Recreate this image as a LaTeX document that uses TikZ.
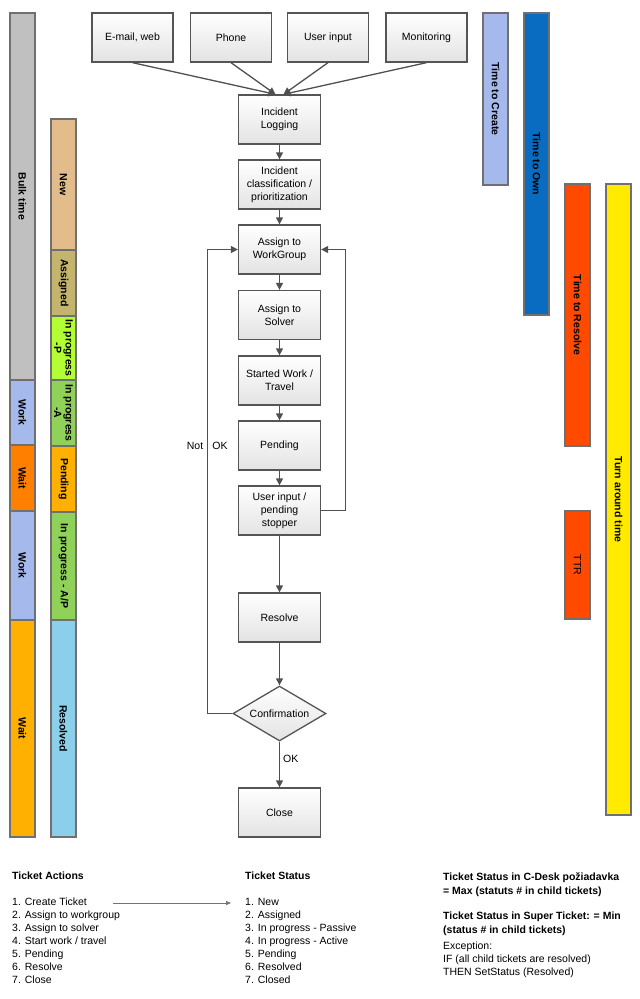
\documentclass[tikz,border=0pt]{standalone}
\usepackage{fontspec}
\setmainfont{Liberation Sans}
\usetikzlibrary{arrows.meta,shapes.geometric}
\definecolor{barline}{HTML}{707070}
\definecolor{boxline}{HTML}{555555}
\definecolor{arrline}{HTML}{505050}
\definecolor{cbulk}{HTML}{C0C0C0}
\definecolor{cwork}{HTML}{A6B9EC}
\definecolor{cwaitA}{HTML}{FF7F00}
\definecolor{cwaitB}{HTML}{FFB000}
\definecolor{cnew}{HTML}{E3BC8C}
\definecolor{cassig}{HTML}{C3B46E}
\definecolor{cprogP}{HTML}{B2FF33}
\definecolor{cprogA}{HTML}{8FD159}
\definecolor{cresol}{HTML}{8CCFEA}
\definecolor{cown}{HTML}{0A6CC0}
\definecolor{cttr}{HTML}{FF4A00}
\definecolor{cturn}{HTML}{FFEA00}
\begin{document}
\begin{tikzpicture}[x=1pt,y=-1pt,
  bar/.style={draw=barline, line width=1.2pt, rotate=-90, font=\fontsize{10.5}{11.5}\selectfont\bfseries, align=center, inner sep=0pt, minimum height=25pt},
  fbox/.style={draw=boxline, line width=1.3pt, top color=white, bottom color=black!11, font=\fontsize{10.5}{13}\selectfont, align=center, inner sep=2pt, minimum width=82pt, minimum height=49pt},
  dbox/.style={draw=boxline, line width=1.3pt, top color=white, bottom color=black!11, font=\fontsize{10.5}{13}\selectfont, shape=diamond, aspect=1.7, inner sep=0pt, minimum width=93pt, minimum height=55pt},
  arr/.style={draw=arrline, line width=1.3pt, -{Triangle[length=7pt,width=7pt]}},
  thinarr/.style={draw=black!55, line width=0.8pt, -{Triangle[length=5pt,width=4pt]}},
  lbl/.style={font=\fontsize{10.5}{13}\selectfont, inner sep=0pt},
  txt/.style={font=\fontsize{10.5}{13}\selectfont, align=left, anchor=north west, inner sep=0pt},
  btxt/.style={txt, font=\fontsize{10.5}{14}\selectfont\bfseries}
]
\useasboundingbox (0,0) rectangle (640,999);

% left column: time types
\node[bar, fill=cbulk, minimum width=367pt] (bulk) at (22.5,196.5) {Bulk time};
\node[bar, fill=cwork, minimum width=65pt] (work1) at (22.5,412.5) {Work};
\node[bar, fill=cwaitA, minimum width=66pt] (wait1) at (22.5,478) {Wait};
\node[bar, fill=cwork, minimum width=109pt] (work2) at (22.5,565.5) {Work};
\node[bar, fill=cwaitB, minimum width=217pt] (wait2) at (22.5,728.5) {Wait};

% status column
\node[bar, fill=cnew, minimum width=131pt] (snew) at (63.5,184.5) {New};
\node[bar, fill=cassig, minimum width=66pt] (sassig) at (63.5,283) {Assigned};
\node[bar, fill=cprogP, minimum width=64pt] (sprogP) at (63.5,348) {In progress\\-P};
\node[bar, fill=cprogA, minimum width=66pt] (sprogA) at (63.5,413) {In progress\\-A};
\node[bar, fill=cwaitB, minimum width=66pt] (spend) at (63.5,479) {Pending};
\node[bar, fill=cprogA, minimum width=108pt] (sprogAP) at (63.5,566) {In progress - A/P};
\node[bar, fill=cresol, minimum width=217pt] (sresol) at (63.5,728.5) {Resolved};

% right bars
\node[bar, fill=cwork, minimum width=172pt] (tcreate) at (495.5,99) {Time to Create};
\node[bar, fill=cown, minimum width=302pt] (town) at (536.5,164) {Time to Own};
\node[bar, fill=cttr, minimum width=262pt] (tresolve) at (577.5,315) {Time to Resolve};
\node[bar, fill=cttr, minimum width=108pt, font=\fontsize{10.5}{11.5}\selectfont] (ttr) at (577.5,565) {TTR};
\node[bar, fill=cturn, minimum width=631pt] (turn) at (618.5,499.5) {Turn around time};

% input boxes
\node[fbox, minimum width=81pt] (email) at (132.5,37.5) {E-mail, web};
\node[fbox, minimum width=81pt] (phone) at (231,37.5) {Phone};
\node[fbox, minimum width=81pt] (userin) at (328,37.5) {User input};
\node[fbox, minimum width=81pt] (monit) at (426.5,37.5) {Monitoring};

% flow
\node[fbox] (log) at (279.5,119.5) {Incident\\Logging};
\node[fbox] (class) at (279.5,184.5) {Incident\\classification /\\prioritization};
\node[fbox] (wg) at (279.5,249.5) {Assign to\\WorkGroup};
\node[fbox] (solver) at (279.5,315) {Assign to\\Solver};
\node[fbox] (started) at (279.5,380.5) {Started Work /\\Travel};
\node[fbox] (pend) at (279.5,445.5) {Pending};
\node[fbox] (uip) at (279.5,510.5) {User input /\\pending\\stopper};
\node[fbox] (resolve) at (279.5,617.5) {Resolve};
\node[dbox] (conf) at (279.5,713.5) {Confirmation};
\node[fbox] (close) at (279.5,812.5) {Close};

\draw[arr] (email.south) -- ([xshift=-4pt]log.north);
\draw[arr] (phone.south) -- ([xshift=-4pt]log.north);
\draw[arr] (userin.south) -- ([xshift=4pt]log.north);
\draw[arr] (monit.south) -- ([xshift=4pt]log.north);
\draw[arr] (log) -- (class);
\draw[arr] (class) -- (wg);
\draw[arr] (wg) -- (solver);
\draw[arr] (solver) -- (started);
\draw[arr] (started) -- (pend);
\draw[arr] (pend) -- (uip);
\draw[arr] (uip) -- (resolve);
\draw[arr] (resolve) -- (conf);
\draw[arr] (conf) -- node[lbl, right=3pt, pos=0.38] (oklow) {OK} (close);
\draw[arr] (conf.west) -- ++(-25,0) |- (wg.west);
\draw[arr] (uip.east) -- ++(24,0) |- (wg.east);
\node[lbl] (notlbl) at (195,445.5) {Not};
\node[lbl] (oklbl) at (220,445.5) {OK};

% bottom legend
\node[btxt] (actH) at (12,872) {Ticket Actions};
\node[txt] (actL) at (12,898) {1. Create Ticket\\2. Assign to workgroup\\3. Assign to solver\\4. Start work / travel\\5. Pending\\6. Resolve\\7. Close};
\node[btxt] (statH) at (245,872) {Ticket Status};
\node[txt] (statL) at (245,898) {1. New\\2. Assigned\\3. In progress - Passive\\4. In progress - Active\\5. Pending\\6. Resolved\\7. Closed};
\coordinate (arrS) at (113,903);
\coordinate (arrE) at (231,903);
\draw[thinarr] (arrS) -- (arrE);

\node[btxt] (rule1) at (443,872) {Ticket Status in C-Desk požiadavka\\= Max (statuts \# in child tickets)};
\node[btxt] (rule2) at (443,912) {Ticket Status in Super Ticket: = Min\\(status \# in child tickets)};
\node[txt] (rule3) at (443,942) {Exception:\\IF (all child tickets are resolved)\\THEN SetStatus (Resolved)};
\end{tikzpicture}
\end{document}
